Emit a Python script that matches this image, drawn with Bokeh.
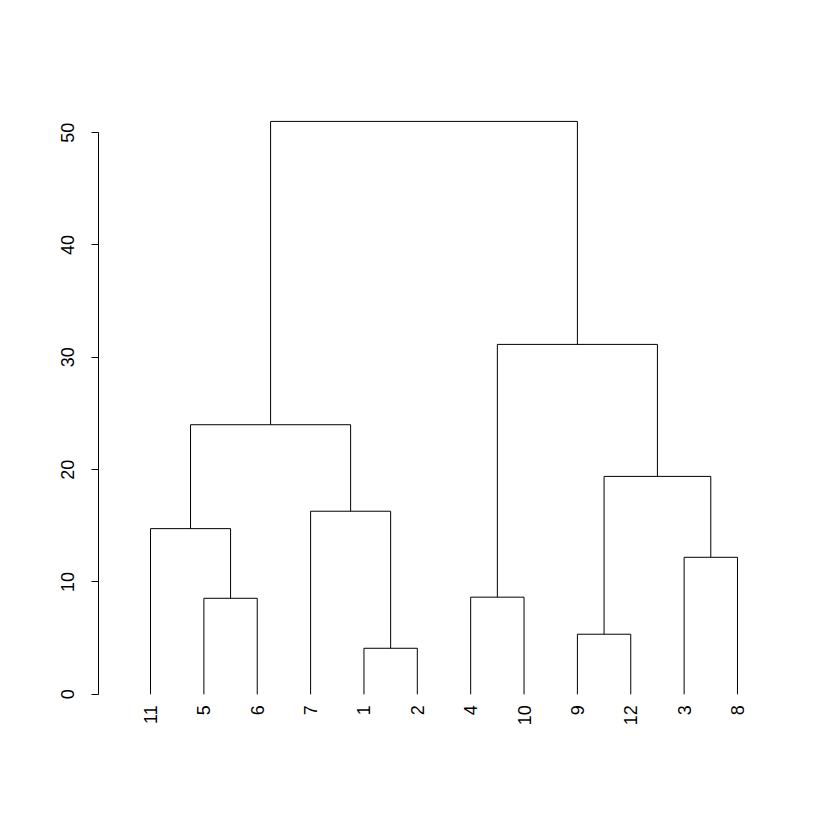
import math
from bokeh.plotting import figure
from bokeh.models import Range1d, FixedTicker, ColumnDataSource
from bokeh.core.properties import value
from bokeh.embed import file_html
from bokeh.resources import INLINE

# Leaf order (left to right) and their labels
leaf_labels = ["11", "5", "6", "7", "1", "2", "4", "10", "9", "12", "3", "8"]

# Merges: (left, right, height); strings are leaf labels, ints are earlier merge indices (0-based)
merge_left = ["1", "9", "5", "4", "3", "11", "7", 1, 5, 3, 8]
merge_right = ["2", "12", "6", "10", "8", 2, 0, 4, 6, 7, 9]
merge_height = [4.1, 5.35, 8.55, 8.65, 12.2, 14.75, 16.3, 19.4, 24.0, 31.15, 51.0]

y_ticks = [0, 10, 20, 30, 40, 50]

leaf_x = {lab: i + 1 for i, lab in enumerate(leaf_labels)}

p = figure(width=824, height=824, output_backend="svg", toolbar_location=None,
           x_range=Range1d(0.025, 12.975), y_range=Range1d(-5.0, 53.04),
           min_border_left=98, min_border_right=35, min_border_top=98,
           min_border_bottom=74)

# Build dendrogram segments from the merge list
node_pos = []  # (x, height) for each merge
xs, ys = [], []
def pos(n):
    if isinstance(n, str):
        return leaf_x[n], 0.0
    return node_pos[n]
for l, r, h in zip(merge_left, merge_right, merge_height):
    lx, lh = pos(l)
    rx, rh = pos(r)
    xs.append([lx, lx, rx, rx])
    ys.append([lh, h, h, rh])
    node_pos.append(((lx + rx) / 2.0, h))

p.multi_line(xs=xs, ys=ys, line_color="black", line_width=1)

src = ColumnDataSource(dict(x=[leaf_x[l] for l in leaf_labels],
                            y=[0] * len(leaf_labels), t=leaf_labels))
p.text(x="x", y="y", text="t", source=src, angle=math.pi / 2,
       text_align="right", text_baseline="middle", y_offset=11,
       text_font=value("Liberation Sans"), text_font_size="18px",
       text_color="black")

p.xaxis.visible = False
p.xgrid.visible = False
p.ygrid.visible = False
p.outline_line_color = None

ax = p.yaxis[0]
ax.ticker = FixedTicker(ticks=y_ticks)
ax.bounds = (0, 50)
ax.major_label_orientation = "vertical"
ax.minor_tick_line_color = None
ax.major_tick_in = 0
ax.major_tick_out = 7
ax.major_label_standoff = 17
ax.major_label_text_font = "Liberation Sans"
ax.major_label_text_font_size = "18px"
ax.major_label_text_color = "black"
ax.axis_line_color = "black"
ax.major_tick_line_color = "black"

open("out.html", "w").write(file_html(p, INLINE))
